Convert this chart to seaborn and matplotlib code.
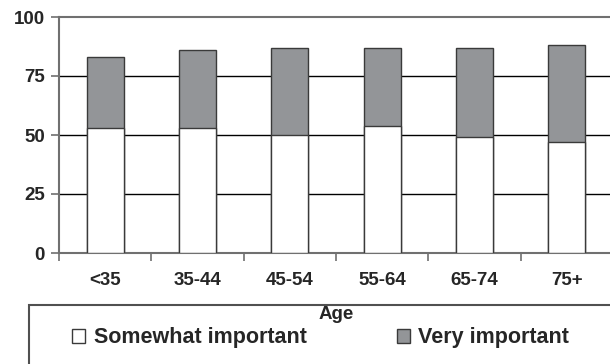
import matplotlib
matplotlib.use("Agg")
import matplotlib.pyplot as plt
from matplotlib.patches import Patch, Rectangle
import seaborn as sns
import pandas as pd

# data (percent of respondents)
age_groups = ["<35", "35-44", "45-54", "55-64", "65-74", "75+"]
somewhat_important = [53, 53, 50, 54, 49, 47]
very_important = [30, 33, 37, 33, 38, 41]
y_ticks = [0, 25, 50, 75, 100]

GRAY = "#939598"
EDGE = "#3a3a3a"
SPINE = "#707070"

sns.set_theme(style="white")
plt.rcParams["font.family"] = ["Liberation Sans", "DejaVu Sans"]
plt.rcParams["font.weight"] = "bold"

df = pd.DataFrame({
    "age": age_groups,
    "somewhat": somewhat_important,
    "total": [s + v for s, v in zip(somewhat_important, very_important)],
})

fig = plt.figure(figsize=(6.10, 3.64), dpi=100)
ax = fig.add_axes([59 / 610, 1 - 253 / 364, 554 / 610, 236 / 364])

# grid lines behind the bars
for y in y_ticks[1:-1]:
    ax.axhline(y, color="black", lw=1.0, zorder=0)

sns.barplot(data=df, x="age", y="total", color=GRAY, width=0.4,
            edgecolor=EDGE, linewidth=1.0, saturation=1, ax=ax, zorder=2)
sns.barplot(data=df, x="age", y="somewhat", color="white", width=0.4,
            edgecolor=EDGE, linewidth=1.0, saturation=1, ax=ax, zorder=3)

ax.set_xlim(-0.5, len(age_groups) - 0.5)
ax.set_ylim(0, 100)
ax.set_yticks(y_ticks)
ax.set_ylabel("")
ax.set_xlabel("Age", fontsize=13.5, fontweight="bold", labelpad=12)

for side in ["left", "bottom", "top"]:
    ax.spines[side].set_color(SPINE)
    ax.spines[side].set_linewidth(1.5)
ax.spines["right"].set_visible(False)

ax.tick_params(axis="y", left=True, length=6, width=1.2, color=SPINE,
               labelsize=13.5, pad=4)
ax.tick_params(axis="x", which="major", length=0, labelsize=13.5, pad=14)
ax.set_xticks([i - 0.5 for i in range(len(age_groups))], minor=True)
ax.tick_params(axis="x", which="minor", bottom=True, length=6, width=1.2,
               color=SPINE)
for lab in ax.get_xticklabels() + ax.get_yticklabels():
    lab.set_fontweight("bold")

# legend box running off the bottom/right of the figure
fig.add_artist(Rectangle((29 / 610, -0.1), 1.0, 0.1 + (364 - 305) / 364,
                         transform=fig.transFigure, fill=False,
                         edgecolor="#505050", lw=1.5))
handles = [Patch(facecolor="white", edgecolor=EDGE, lw=1.0),
           Patch(facecolor=GRAY, edgecolor=EDGE, lw=1.0)]
fig.legend(handles, ["Somewhat important", "Very important"], ncol=2,
           loc="center left", bbox_to_anchor=(72 / 610, 1 - 338 / 364),
           frameon=False, borderpad=0, borderaxespad=0,
           handlelength=0.6, handleheight=0.6, handletextpad=0.4,
           columnspacing=4.2, prop={"size": 15.5, "weight": "bold"})

fig.savefig("out.png", dpi=100, facecolor="white")
